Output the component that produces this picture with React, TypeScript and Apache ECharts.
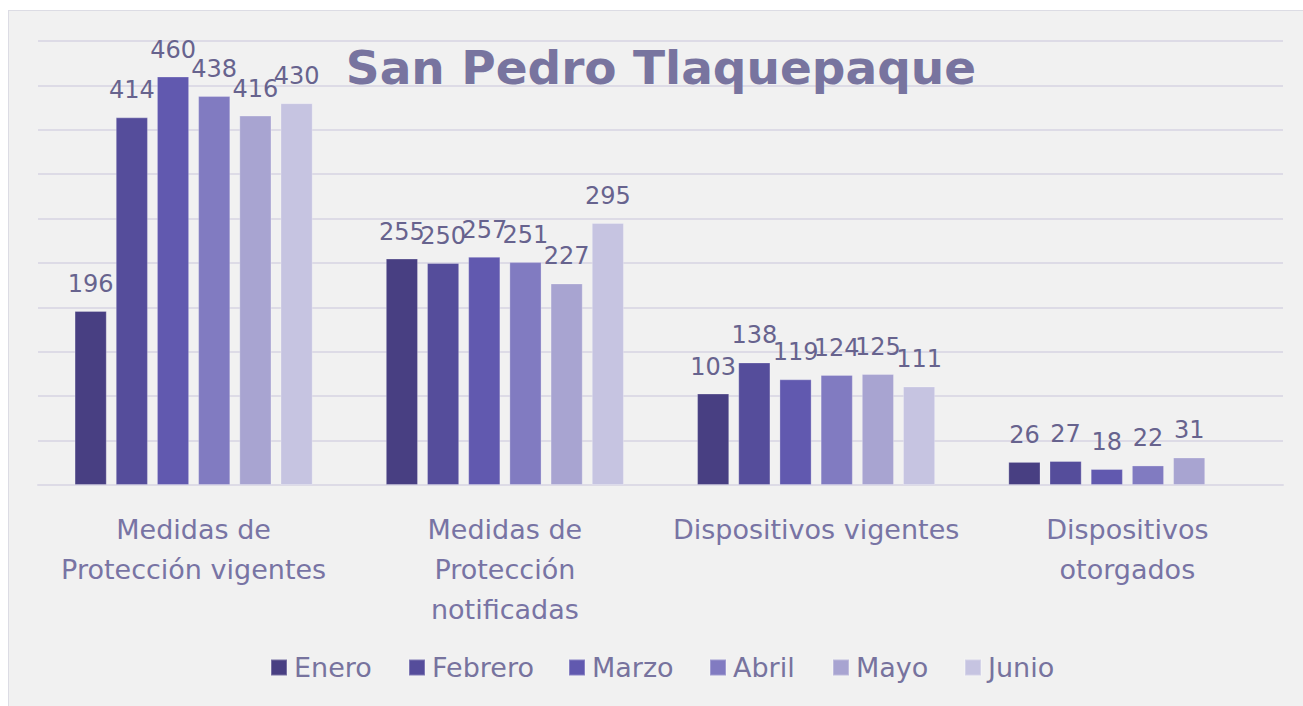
import React, { useEffect, useRef } from "react";
import * as echarts from "echarts";

const categories = [
  "Medidas de\nProtección vigentes",
  "Medidas de\nProtección\nnotificadas",
  "Dispositivos vigentes",
  "Dispositivos\notorgados",
];
const months = ["Enero", "Febrero", "Marzo", "Abril", "Mayo", "Junio"];
const enero = [196, 255, 103, 26];
const febrero = [414, 250, 138, 27];
const marzo = [460, 257, 119, 18];
const abril = [438, 251, 124, 22];
const mayo = [416, 227, 125, 31];
const junio: (number | null)[] = [430, 295, 111, null];
const seriesValues = [enero, febrero, marzo, abril, mayo, junio];
const colors = ["#483f82", "#554d9b", "#6159af", "#817bc1", "#a8a4d1", "#c6c4e1"];
const legendLefts = [261, 399, 559, 700, 823, 955];
const titleText = "San Pedro Tlaquepaque";

const FONT = "DejaVu Sans";

export default function App() {
  const ref = useRef<HTMLDivElement>(null);
  useEffect(() => {
    if (!ref.current) return;
    const chart = echarts.init(ref.current, undefined, { renderer: "svg" });
    chart.setOption({
      animation: false,
      backgroundColor: "#f1f1f1",
      title: {
        text: titleText,
        left: 647,
        top: 28,
        textAlign: "center",
        textStyle: {
          fontFamily: FONT,
          fontWeight: "bold",
          fontSize: 47,
          color: "#78749f",
        },
      },
      legend: months.map((m, i) => ({
        data: [m],
        bottom: 25,
        left: legendLefts[i],
        padding: 0,
        itemWidth: 16,
        itemHeight: 16,
        icon: "rect",
        textStyle: {
          fontFamily: FONT,
          fontSize: 27,
          color: "#77739e",
          padding: [0, 0, 0, 2],
        },
      })),
      grid: { left: 29, right: 20, top: 30, bottom: 221, containLabel: false },
      xAxis: {
        type: "category",
        data: categories,
        axisLine: { show: true, lineStyle: { color: "#dddbe6", width: 2 } },
        axisTick: { show: false },
        axisLabel: {
          fontFamily: FONT,
          fontSize: 27,
          lineHeight: 40,
          color: "#7874a4",
          margin: 24,
          interval: 0,
        },
      },
      yAxis: {
        type: "value",
        min: 0,
        max: 500,
        interval: 50,
        axisLabel: { show: false },
        axisLine: { show: false },
        axisTick: { show: false },
        splitLine: { lineStyle: { color: "#dddbe6", width: 2 } },
      },
      series: seriesValues.map((vals, i) => ({
        name: months[i],
        type: "bar",
        data: vals.map((v) => (v === null ? "-" : v)),
        barCategoryGap: "23.5%",
        barGap: "28%",
        itemStyle: {
          color: colors[i],
          borderColor: "rgba(255,255,255,0.25)",
          borderWidth: 1,
        },
        label: {
          show: true,
          position: "top",
          distance: 15,
          fontFamily: FONT,
          fontSize: 24,
          color: "#67638e",
        },
      })),
    });
    return () => chart.dispose();
  }, []);
  return (
    <div
      style={{
        position: "absolute",
        left: 8,
        top: 10,
        width: 1294,
        height: 695,
        borderLeft: "1px solid #dcdce4",
        borderTop: "1px solid #dcdce4",
        background: "#f1f1f1",
      }}
    >
      <div ref={ref} style={{ width: 1294, height: 695 }} />
    </div>
  );
}
